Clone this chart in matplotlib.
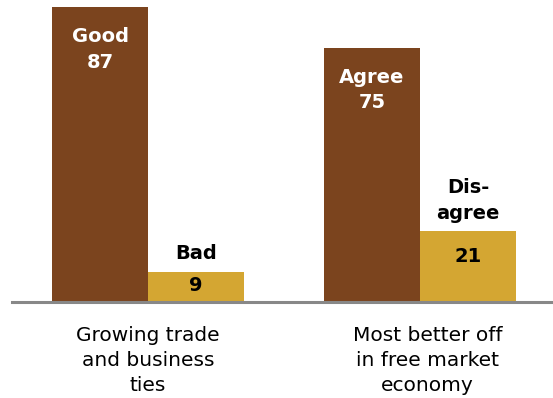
import matplotlib
matplotlib.use('Agg')
import matplotlib.pyplot as plt
import numpy as np

# survey results, percent
groups = ['Growing trade\nand business\nties', 'Most better off\nin free market\neconomy']
pos_labels = ['Good', 'Agree']
neg_labels = ['Bad', 'Dis-\nagree']
pos_values = [87, 75]
neg_values = [9, 21]

BROWN = '#7B441E'
GOLD = '#D4A632'

fig = plt.figure(figsize=(5.53, 3.98), dpi=100)
ax = fig.add_axes([12 / 553, 1 - 302 / 398, 1 - 12 / 553, 302 / 398])

centers = np.array([1.417, 4.25])
w = 1.0
ax.bar(centers - w / 2, pos_values, width=w, color=BROWN, zorder=2)
ax.bar(centers + w / 2, neg_values, width=w, color=GOLD, zorder=2)

ax.set_xlim(0, 5.635)
ax.set_ylim(0, 89.2)
ax.axis('off')
ax.axhline(0, color='#888888', lw=2.2, zorder=3, clip_on=False)

bold = dict(family='DejaVu Sans', fontweight='bold', fontsize=14)
for c, lab, v in zip(centers, pos_labels, pos_values):
    ax.annotate(f'{lab}\n{v}', (c - w / 2, v), xytext=(0, -14), textcoords='offset points',
                ha='center', va='top', color='white', linespacing=1.45, **bold)

for c, lab, v in zip(centers, neg_labels, neg_values):
    ax.annotate(lab, (c + w / 2, v), xytext=(0, 6), textcoords='offset points',
                ha='center', va='bottom', color='black', linespacing=1.45, **bold)
    ax.annotate(str(v), (c + w / 2, v / 2), xytext=(0, 7 if v > 15 else 1),
                textcoords='offset points', ha='center', va='center', color='black', **bold)

for c, g, dx in zip(centers, groups, [0.0, 0.08]):
    ax.annotate(g, (c + dx, 0), xytext=(0, -17), textcoords='offset points',
                ha='center', va='top', fontsize=14.5, family='DejaVu Sans',
                linespacing=1.42, annotation_clip=False)

fig.savefig('out.png', dpi=100, facecolor='white')
